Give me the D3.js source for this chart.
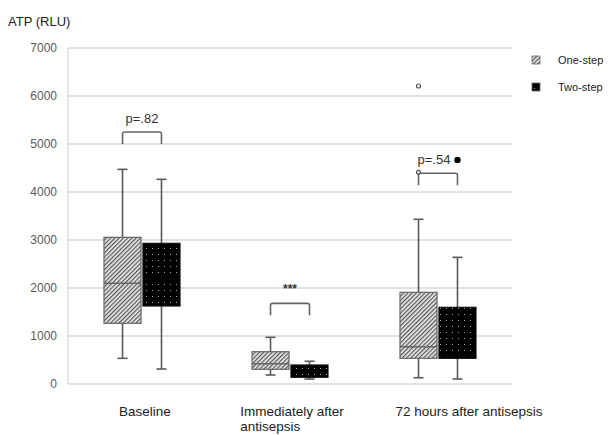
<!DOCTYPE html>
<html>
<head>
<meta charset="utf-8">
<script src="https://cdn.jsdelivr.net/npm/d3@7/dist/d3.min.js"></script>
<style>
  body { margin: 0; background: #fff; }
  svg { font-family: "Liberation Sans", Arial, sans-serif; }
</style>
</head>
<body>
<svg width="611" height="435"></svg>
<script>
// dimensions
var width = 611, height = 435;
var margin = {left: 68, right: 99, top: 48, bottom: 51};

// data
var categories = ['Baseline', 'Immediately after antisepsis', '72 hours after antisepsis'];
var series = ['One-step', 'Two-step'];
var yTicks = [0, 1000, 2000, 3000, 4000, 5000, 6000, 7000];

// [min, q1, median, q3, max] per category
var oneStep = [
  [535, 1264, 2098, 3056, 4472],
  [188, 306, 420, 673, 973],
  [131, 535, 777, 1910, 3431]
];
var twoStep = [
  [312, 1625, 2200, 2931, 4264],
  [104, 140, 250, 396, 473],
  [104, 535, 560, 1597, 2639]
];
var outliersOne = [[], [], [6208, 4410]];
var outliersTwo = [[], [], [4667]];

// brackets: label, bracket top value
var pLabels = ['p=.82', '***', 'p=.54'];
var bracketTop = [5250, 1680, 4390];

var svg = d3.select('svg');

var x = d3.scaleBand().domain(categories).range([margin.left, width - margin.right]);
var xs = d3.scaleBand().domain(series).range([-38, 38]).paddingInner(0.05);
var y = d3.scaleLinear().domain([0, 7000]).range([height - margin.bottom, margin.top]);

// patterns
var defs = svg.append('defs');
var hatch = defs.append('pattern').attr('id', 'hatch')
  .attr('patternUnits', 'userSpaceOnUse').attr('width', 3).attr('height', 3)
  .attr('patternTransform', 'rotate(45)');
hatch.append('rect').attr('width', 3).attr('height', 3).attr('fill', '#e8e8e8');
hatch.append('rect').attr('width', 1.2).attr('height', 3).attr('fill', '#555');

var dots = defs.append('pattern').attr('id', 'dots')
  .attr('patternUnits', 'userSpaceOnUse').attr('width', 6).attr('height', 6);
dots.append('rect').attr('width', 6).attr('height', 6).attr('fill', '#000');
dots.append('rect').attr('x', 2).attr('y', 2).attr('width', 1).attr('height', 1).attr('fill', '#aaa');

var fills = {'One-step': 'url(#hatch)', 'Two-step': 'url(#dots)'};

// gridlines
svg.append('g').selectAll('line')
  .data(yTicks)
  .enter().append('line')
  .attr('x1', margin.left).attr('x2', width - margin.right)
  .attr('y1', function(d) { return y(d); })
  .attr('y2', function(d) { return y(d); })
  .attr('stroke', '#d9d9d9').attr('stroke-width', 1.3);

svg.append('line')
  .attr('x1', margin.left).attr('x2', margin.left)
  .attr('y1', y(0)).attr('y2', y(7000))
  .attr('stroke', '#d9d9d9').attr('stroke-width', 1.3);

// y axis labels
var yAxis = d3.axisLeft(y).tickValues(yTicks).tickFormat(d3.format('d')).tickSize(0).tickPadding(11);
var ga = svg.append('g').attr('transform', 'translate(' + margin.left + ',0)').call(yAxis);
ga.select('.domain').remove();
ga.selectAll('text').attr('fill', '#595959').attr('font-size', 12)
  .attr('font-family', '"Liberation Sans", Arial, sans-serif');

svg.append('text').attr('x', 8).attr('y', 26).attr('font-size', 13).attr('fill', '#222')
  .text('ATP (RLU)');

// boxes
function drawBoxes(data, name, outliers) {
  var g = svg.append('g');
  data.forEach(function(d, i) {
    var x0 = x(categories[i]) + x.bandwidth() / 2 + xs(name);
    var w = xs.bandwidth();
    var cx = x0 + w / 2;
    // whiskers
    g.append('line').attr('x1', cx).attr('x2', cx).attr('y1', y(d[0])).attr('y2', y(d[4]))
      .attr('stroke', '#595959').attr('stroke-width', 1.6);
    [d[0], d[4]].forEach(function(v) {
      g.append('line').attr('x1', cx - 5).attr('x2', cx + 5).attr('y1', y(v)).attr('y2', y(v))
        .attr('stroke', '#595959').attr('stroke-width', 1.6);
    });
    g.append('rect').attr('x', x0).attr('y', y(d[3]))
      .attr('width', w).attr('height', y(d[1]) - y(d[3]))
      .attr('fill', fills[name]).attr('stroke', name === 'One-step' ? '#666' : '#111')
      .attr('stroke-width', 1.2);
    g.append('line').attr('x1', x0).attr('x2', x0 + w).attr('y1', y(d[2])).attr('y2', y(d[2]))
      .attr('stroke', name === 'One-step' ? '#666' : '#000').attr('stroke-width', 1.5);
    outliers[i].forEach(function(v) {
      g.append('circle').attr('cx', cx).attr('cy', y(v))
        .attr('r', name === 'One-step' ? 2 : 2.6)
        .attr('fill', name === 'One-step' ? '#fff' : '#000')
        .attr('stroke', name === 'One-step' ? '#555' : '#000').attr('stroke-width', 1.2);
    });
  });
}
drawBoxes(oneStep, 'One-step', outliersOne);
drawBoxes(twoStep, 'Two-step', outliersTwo);

// significance brackets
categories.forEach(function(c, i) {
  var c1 = x(c) + x.bandwidth() / 2 + xs('One-step') + xs.bandwidth() / 2;
  var c2 = x(c) + x.bandwidth() / 2 + xs('Two-step') + xs.bandwidth() / 2;
  var yt = y(bracketTop[i]);
  svg.append('path')
    .attr('d', 'M' + c1 + ',' + (yt + 12) + 'V' + (yt + 2) + 'Q' + c1 + ',' + yt + ' ' + (c1 + 2) + ',' + yt +
      'H' + (c2 - 2) + 'Q' + c2 + ',' + yt + ' ' + c2 + ',' + (yt + 2) + 'V' + (yt + 12))
    .attr('fill', 'none').attr('stroke', '#666').attr('stroke-width', 1.6);
  svg.append('text').attr('x', (c1 + c2) / 2 - (i === 2 ? 4 : 0))
    .attr('y', yt - (i === 1 ? 10 : 9))
    .attr('text-anchor', 'middle').attr('font-size', i === 1 ? 12 : 13)
    .attr('font-weight', i === 1 ? 'bold' : 'normal').attr('fill', '#333')
    .text(pLabels[i]);
});

// category labels (multi-line labels are left aligned under the first line)
var labelLines = [['Baseline'], ['Immediately after', 'antisepsis'], ['72 hours after antisepsis']];
var labelShift = [3, 2, 31];
labelLines.forEach(function(lines, i) {
  var cx = x(categories[i]) + x.bandwidth() / 2 + labelShift[i];
  var t = svg.append('text').attr('font-size', 13.5).attr('fill', '#222');
  var spans = lines.map(function(l, j) {
    return t.append('tspan').attr('x', 0).attr('y', 416 + j * 15).text(l);
  });
  var w = d3.max(spans, function(s) { return s.node().getComputedTextLength(); });
  spans.forEach(function(s) { s.attr('x', cx - w / 2); });
});

// legend
var lg = svg.append('g').attr('transform', 'translate(532,56)');
series.forEach(function(s, i) {
  lg.append('rect').attr('x', 0).attr('y', i * 27).attr('width', 8).attr('height', 8)
    .attr('fill', fills[s]).attr('stroke', '#666').attr('stroke-width', 0.8);
  lg.append('text').attr('x', 26).attr('y', i * 27 + 8).attr('font-size', 11).attr('fill', '#222')
    .text(s);
});
</script>
</body>
</html>
